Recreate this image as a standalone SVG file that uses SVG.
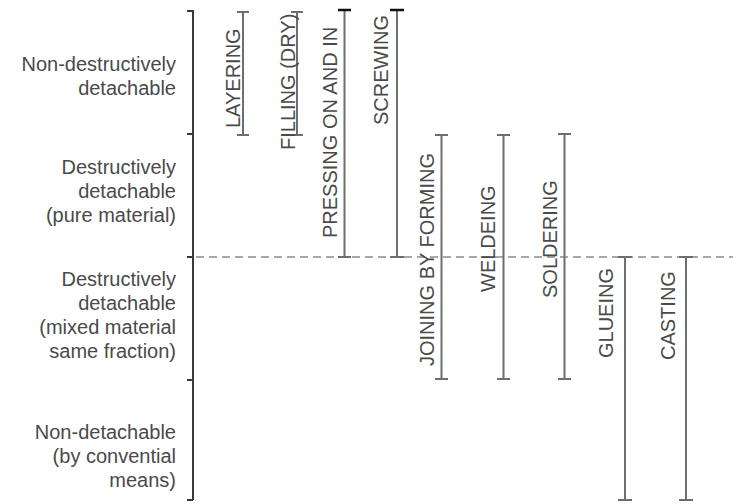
<svg xmlns="http://www.w3.org/2000/svg" width="733" height="504" viewBox="0 0 733 504">
<style>
text{font-family:"Liberation Sans",Arial,sans-serif;font-size:20px;fill:#4a4a4a}
.lbl{text-anchor:end}
.bar{stroke:#6e6e6e;stroke-width:2;fill:none}
.axis{stroke:#3a3a3a;stroke-width:2;fill:none}
.dash{stroke:#8a8a8a;stroke-width:1.6;stroke-dasharray:8 5;fill:none}
</style>
<rect width="733" height="504" fill="#fff"/>
<g id="axis">
<path class="axis" d="M193,10V500M187,11H193M187,134H193M187,257H193M187,380H193M187,500H193"/>
</g>
<g id="connectors">
<path class="dash" d="M196,257H733"/>
</g>
<g id="categories">
<g id="cat-nondestructive">
<text class="lbl" x="176" y="71">Non-destructively</text>
<text class="lbl" x="176" y="95">detachable</text>
</g>
<g id="cat-destructive-pure">
<text class="lbl" x="176" y="174">Destructively</text>
<text class="lbl" x="176" y="198">detachable</text>
<text class="lbl" x="176" y="222">(pure material)</text>
</g>
<g id="cat-destructive-mixed">
<text class="lbl" x="176" y="286">Destructively</text>
<text class="lbl" x="176" y="310">detachable</text>
<text class="lbl" x="176" y="334">(mixed material</text>
<text class="lbl" x="176" y="358">same fraction)</text>
</g>
<g id="cat-nondetachable">
<text class="lbl" x="176" y="439">Non-detachable</text>
<text class="lbl" x="176" y="463">(by convential</text>
<text class="lbl" x="176" y="487">means)</text>
</g>
</g>
<g id="layering">
<path class="bar" d="M243,12V135M237,12H249M237,135H249"/>
<text transform="translate(240,128) rotate(-90)">LAYERING</text>
</g>
<g id="filling">
<path class="bar" d="M297,12V135M291,12H303M291,135H303"/>
<text transform="translate(295,150) rotate(-90)">FILLING (DRY)</text>
</g>
<g id="pressing">
<path class="bar" d="M344.5,10V257M338,10H351M338,257H351"/>
<path d="M338,10H351" stroke="#111" stroke-width="2.5"/>
<text transform="translate(337,238) rotate(-90)">PRESSING ON AND IN</text>
</g>
<g id="screwing">
<path class="bar" d="M397,10V257M390,10H404M390,257H404"/>
<path d="M390,10H404" stroke="#111" stroke-width="2.5"/>
<text transform="translate(388,125) rotate(-90)">SCREWING</text>
</g>
<g id="joining">
<path class="bar" d="M441.5,135V379M435,135H448M435,379H448"/>
<text transform="translate(434,366) rotate(-90)">JOINING BY FORMING</text>
</g>
<g id="welding">
<path class="bar" d="M503.5,135V379M497,135H510M497,379H510"/>
<text transform="translate(495,292) rotate(-90)">WELDEING</text>
</g>
<g id="soldering">
<path class="bar" d="M564.5,134V379M558,134H571M558,379H571"/>
<text transform="translate(557,298) rotate(-90)">SOLDERING</text>
</g>
<g id="glueing">
<path class="bar" d="M625,257V500M618,257H632M618,500H632"/>
<text transform="translate(613,358) rotate(-90)">GLUEING</text>
</g>
<g id="casting">
<path class="bar" d="M686,257V500M679,257H693M679,500H693"/>
<text transform="translate(675,360) rotate(-90)">CASTING</text>
</g>
</svg>
